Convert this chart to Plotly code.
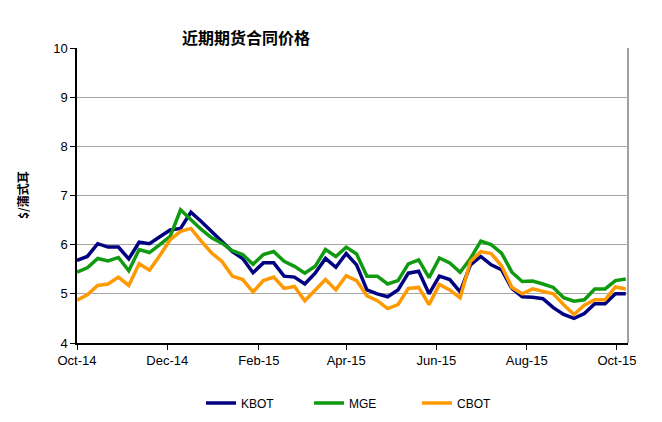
import pandas as pd
import plotly.graph_objects as go

# Weekly dates (Oct 1 2014 .. Oct 7 2015)
dates = list(pd.date_range("2014-10-01", periods=54, freq="7D").strftime("%Y-%m-%d"))

kbot = [5.68, 5.76, 6.02, 5.95, 5.95, 5.71, 6.05, 6.02, 6.16, 6.30,
        6.33, 6.66, 6.47, 6.27, 6.07, 5.86, 5.72, 5.43, 5.63, 5.63,
        5.36, 5.34, 5.20, 5.42, 5.72, 5.54, 5.82, 5.59, 5.08, 5.00,
        4.94, 5.08, 5.42, 5.46, 5.00, 5.36, 5.29, 5.04, 5.59, 5.76,
        5.59, 5.49, 5.11, 4.94, 4.93, 4.90, 4.72, 4.58, 4.50, 4.60,
        4.80, 4.80, 5.00, 5.00]
mge = [5.44, 5.53, 5.72, 5.67, 5.74, 5.47, 5.90, 5.84, 6.00, 6.17,
       6.71, 6.51, 6.31, 6.14, 6.03, 5.88, 5.80, 5.60, 5.80, 5.86,
       5.66, 5.56, 5.42, 5.56, 5.90, 5.76, 5.95, 5.81, 5.36, 5.36,
       5.20, 5.27, 5.61, 5.69, 5.33, 5.73, 5.63, 5.44, 5.72, 6.07,
       6.00, 5.83, 5.44, 5.25, 5.26, 5.20, 5.13, 4.92, 4.85, 4.88,
       5.10, 5.10, 5.27, 5.30]
cbot = [4.87, 4.98, 5.17, 5.20, 5.34, 5.17, 5.61, 5.48, 5.78, 6.10,
        6.27, 6.33, 6.07, 5.83, 5.66, 5.36, 5.29, 5.04, 5.27, 5.34,
        5.11, 5.15, 4.86, 5.08, 5.29, 5.08, 5.37, 5.27, 4.96, 4.86,
        4.70, 4.78, 5.11, 5.13, 4.78, 5.19, 5.08, 4.92, 5.66, 5.86,
        5.82, 5.57, 5.13, 5.00, 5.10, 5.05, 5.00, 4.78, 4.58, 4.77,
        4.88, 4.88, 5.14, 5.10]

series = [("KBOT", kbot, "#000080"), ("MGE", mge, "#109a10"), ("CBOT", cbot, "#ff9900")]

OFF = 8  # page body margin
W, H = 662 - OFF, 422 - OFF
L, R, T, B = 77 - OFF, 34, 48 - OFF, 79
PW, PH = W - L - R, H - T - B


def px(xs):
    return (xs - OFF - L) / PW


def py(ys):
    return (H - B - (ys - OFF)) / PH


fig = go.Figure()
for name, vals, color in series:
    fig.add_trace(go.Scatter(x=dates, y=vals, name=name, mode="lines",
                             line=dict(color=color, width=3.5)))

fig.update_layout(
    width=W, height=H,
    margin=dict(l=L, r=R, t=T, b=B, autoexpand=False),
    paper_bgcolor="white", plot_bgcolor="white",
    font=dict(family="Liberation Sans, Arial, sans-serif", size=13, color="black"),
    showlegend=True,
    legend=dict(orientation="h", xref="container", yref="container",
                x=(201 - OFF) / W, xanchor="left", y=1 - (403 - OFF) / H, yanchor="middle",
                font=dict(size=12), entrywidth=63, entrywidthmode="pixels",
                itemwidth=30, bgcolor="rgba(0,0,0,0)"),
    annotations=[
        dict(text="<b>近期期货合同价格</b>", xref="paper", yref="paper",
             x=px(246), y=py(37), xanchor="center", yanchor="middle",
             showarrow=False, font=dict(family="Noto Sans CJK SC", size=16)),
        dict(text="<b>$/蒲式耳</b>", xref="paper", yref="paper",
             x=px(22), y=py(195), xanchor="center", yanchor="middle",
             textangle=-90, showarrow=False,
             font=dict(family="Noto Sans CJK SC", size=12)),
    ],
)

fig.update_xaxes(type="date", range=["2014-10-01", "2015-10-08 12:00"],
                 tick0="2014-10-01", dtick="M2", tickformat="%b-%y",
                 ticks="outside", ticklen=5, tickcolor="black",
                 showline=True, linecolor="black", linewidth=1.5,
                 showgrid=False, zeroline=False, automargin=False)
fig.update_yaxes(range=[4, 10], dtick=1, ticks="outside", ticklen=5, tickcolor="black",
                 showline=True, linecolor="black", linewidth=1.5,
                 showgrid=True, gridcolor="#a6a6a6", gridwidth=1, zeroline=False,
                 automargin=False)
fig.add_shape(type="line", xref="paper", yref="paper", x0=1, x1=1, y0=0, y1=1,
              line=dict(color="#a0a0a0", width=2))

fig.write_html("out.html")
